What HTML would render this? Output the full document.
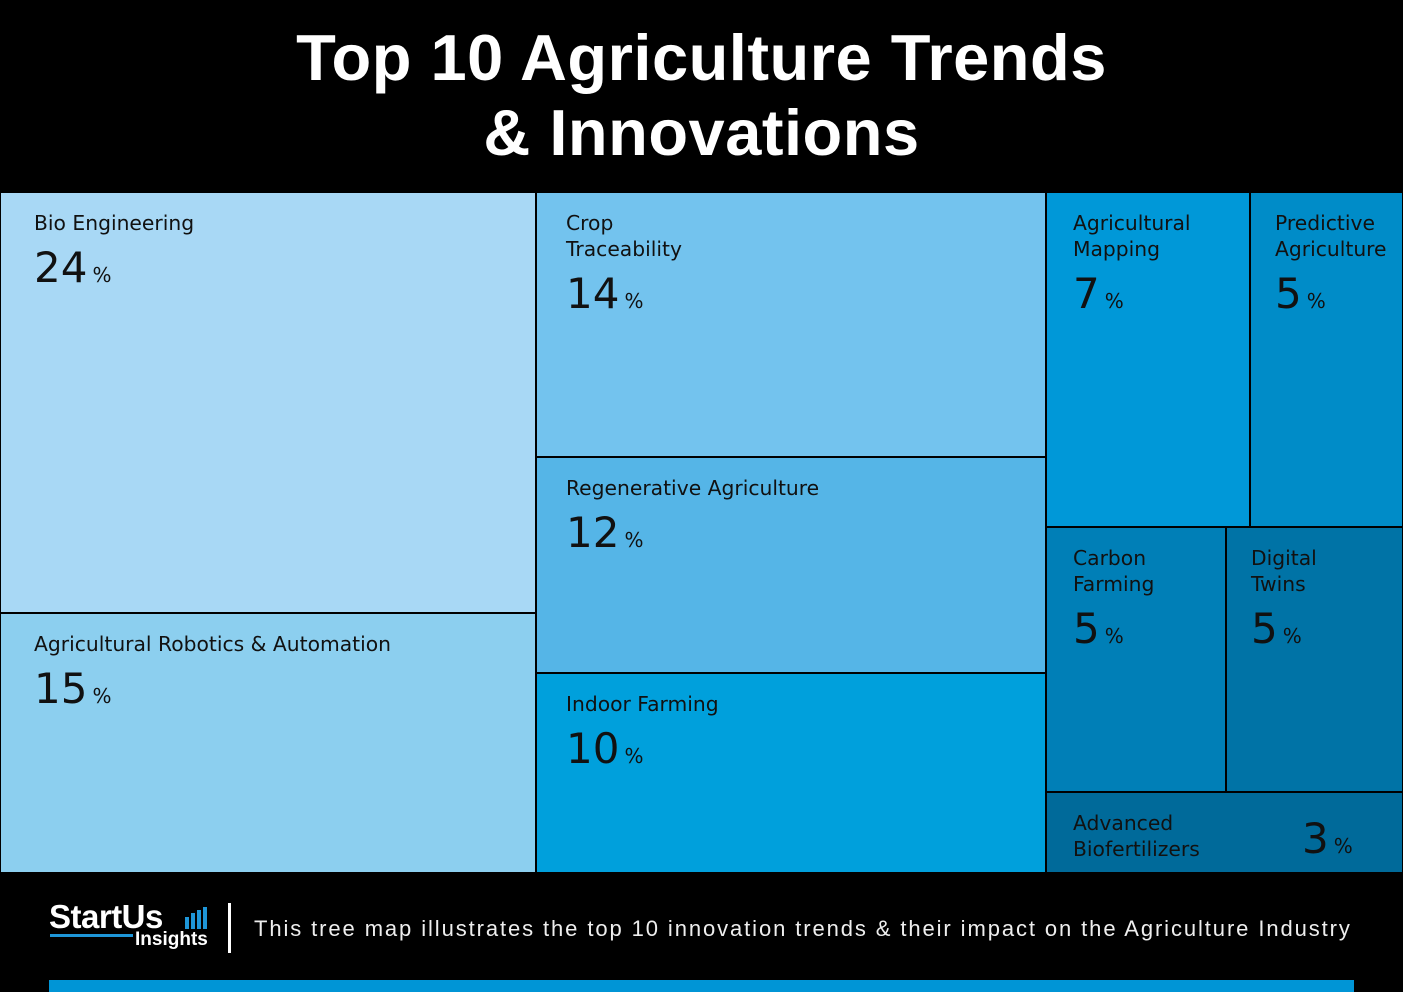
<!DOCTYPE html>
<html><head><meta charset="utf-8">
<style>
html,body{margin:0;padding:0;background:#000;}
body{width:1403px;height:992px;position:relative;overflow:hidden;font-family:"DejaVu Sans","Liberation Sans",sans-serif;}
#title{position:absolute;left:0;top:20px;width:1403px;text-align:center;color:#fff;font-family:"Liberation Sans",sans-serif;font-weight:bold;font-size:65px;line-height:75px;letter-spacing:0.5px;}
#chart{position:absolute;left:0;top:192px;width:1403px;height:681px;}
.tile{position:absolute;box-sizing:border-box;border:1px solid #000;color:#111;}
.lbl{position:absolute;left:33px;top:17px;font-size:20.3px;line-height:26px;white-space:nowrap;}
.val{position:absolute;left:33px;font-size:42px;line-height:42px;}
.val span{font-size:20px;margin-left:5px;}
#footer-text{position:absolute;left:254px;top:916px;color:#eee;font-family:"Liberation Sans",sans-serif;font-size:22px;letter-spacing:1.9px;white-space:nowrap;}
</style></head><body>
<div id="title">Top 10 Agriculture Trends<br>&amp; Innovations</div>
<div id="chart"></div>
<div style="position:absolute;left:49px;top:899px;width:160px;height:56px;">
  <div style="position:absolute;left:0;top:0;color:#fff;font-family:'Liberation Sans',sans-serif;font-weight:bold;font-size:33px;line-height:36px;letter-spacing:-0.5px;">StartUs</div>
  <div style="position:absolute;left:136px;top:8px;width:22px;height:22px;display:flex;gap:2px;align-items:flex-end;">
    <i style="width:4px;height:12px;background:#1e96d8"></i><i style="width:4px;height:16px;background:#1e96d8"></i><i style="width:4px;height:19px;background:#1e96d8"></i><i style="width:4px;height:22px;background:#1e96d8"></i>
  </div>
  <div style="position:absolute;left:1px;top:35px;width:83px;height:3px;background:#1e96d8"></div>
  <div style="position:absolute;left:86px;top:30px;color:#fff;font-family:'Liberation Sans',sans-serif;font-weight:bold;font-size:19px;">Insights</div>
</div>
<div style="position:absolute;left:228px;top:903px;width:3px;height:50px;background:#fff;"></div>
<div id="footer-text">This tree map illustrates the top 10 innovation trends &amp; their impact on the Agriculture Industry</div>
<div style="position:absolute;left:49px;top:980px;width:1305px;height:12px;background:#0095d6;"></div>
<script>
// data
const names = ["Bio Engineering","Agricultural Robotics & Automation","Crop\nTraceability","Regenerative Agriculture","Indoor Farming","Agricultural\nMapping","Predictive\nAgriculture","Carbon\nFarming","Digital\nTwins","Advanced\nBiofertilizers"];
const values = [24,15,14,12,10,7,5,5,5,3];            // printed percentages
const shares = [23.6,14.6,14.15,11.53,10.68,7.15,5.37,4.99,4.91,3.03]; // unrounded area shares (estimated)
const colors = ["#a8d8f5","#8ccfef","#73c3ee","#55b5e7","#00a0dc","#0098d8","#008cc8","#007fb7","#0073a6","#006a9a"];
// structure: columns -> rows -> items (indices)
const columns = [[[0],[1]],[[2],[3],[4]],[[5,6],[7,8],[9]]];
const padX = [33,29,26];
const W = 1403, H = 681;
const chart = document.getElementById('chart');
const sum = a => a.reduce((s,i)=>s+shares[i],0);
const total = shares.reduce((a,b)=>a+b,0);
let x = 0;
columns.forEach((col,ci)=>{
  const colSum = col.reduce((s,r)=>s+sum(r),0);
  const cw = W*colSum/total;
  let y = 0;
  col.forEach(row=>{
    const rs = sum(row);
    const rh = H*rs/colSum;
    let rx = x;
    row.forEach((i,ri)=>{
      const tw = cw*shares[i]/rs;
      const pad = (ci===2 && ri===1) ? 24 : padX[ci];
      const d = document.createElement('div');
      d.className='tile';
      
      
      d.style.left=Math.round(rx)+'px';d.style.top=Math.round(y)+'px';
      d.style.width=(Math.round(rx+tw)-Math.round(rx))+'px';d.style.height=(Math.round(y+rh)-Math.round(y))+'px';
      d.style.background=colors[i];
      const l=document.createElement('div');l.className='lbl';
      
      
      l.style.left=pad+'px';
      l.innerHTML=names[i].replace(/&/g,'&amp;').replace(/\n/g,'<br>');
      d.appendChild(l);
      const v=document.createElement('div');v.className='val';
      
      
      v.style.left=pad+'px';
      v.innerHTML=values[i]+'<span>%</span>';
      const lines = names[i].split('\n').length;
      if (i===9){ v.style.left='255px'; v.style.top='25px'; }
      else v.style.top=(lines===2?80:54)+'px';
      d.appendChild(v);
      chart.appendChild(d);
      rx+=tw;
    });
    y+=rh;
  });
  x+=cw;
});
</script>
</body></html>
